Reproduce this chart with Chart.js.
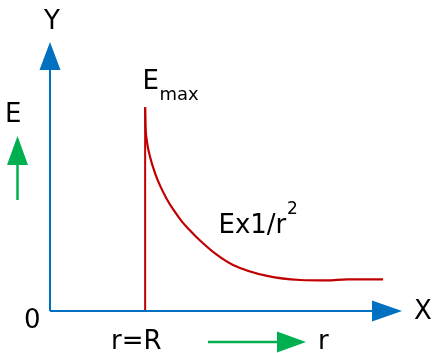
<!DOCTYPE html>
<html>
<head>
<meta charset="utf-8">
<script src="https://cdn.jsdelivr.net/npm/chart.js@4"></script>
<style>
  html, body { margin: 0; padding: 0; background: #ffffff; }
  #wrap { width: 434px; height: 353px; position: relative; }
</style>
</head>
<body>
<div id="wrap"><canvas id="c"></canvas></div>
<script>
// r in units of R, E in units of Emax
const rValues = [1.0, 1.004, 1.017, 1.052, 1.104, 1.157, 1.227, 1.297, 1.385, 1.472, 1.577, 1.756, 1.924, 2.282, 2.629, 2.913, 3.123, 3.501];
const eValues = [1.0, 0.913, 0.839, 0.756, 0.677, 0.615, 0.550, 0.497, 0.440, 0.395, 0.346, 0.275, 0.226, 0.172, 0.152, 0.150, 0.155, 0.155];
const surfaceR = [1.0, 1.0];
const surfaceE = [0, 1.0];
const labels = { y: 'Y', x: 'X', origin: '0', e: 'E', r: 'r', rR: 'r=R', emax: 'E', emaxSub: 'max', law: 'Ex1/r', lawSup: '2' };

const BLUE = '#0070C0', RED = '#C00000', GREEN = '#00B050';
const FONT = '"DejaVu Sans", Verdana, sans-serif';

const decor = {
  id: 'decor',
  afterDatasetsDraw(chart) {
    const ctx = chart.ctx;
    const xs = chart.scales.x, ys = chart.scales.y;
    const ox = xs.getPixelForValue(0), oy = ys.getPixelForValue(0);
    const xEnd = xs.right, yEnd = ys.top;
    ctx.save();
    // axes
    ctx.strokeStyle = BLUE; ctx.fillStyle = BLUE; ctx.lineWidth = 2;
    ctx.beginPath(); ctx.moveTo(ox, oy); ctx.lineTo(xEnd - 28, oy); ctx.stroke();
    ctx.beginPath(); ctx.moveTo(xEnd, oy); ctx.lineTo(xEnd - 30, oy - 10.5); ctx.lineTo(xEnd - 30, oy + 10.5); ctx.closePath(); ctx.fill();
    ctx.beginPath(); ctx.moveTo(ox, oy); ctx.lineTo(ox, yEnd + 26); ctx.stroke();
    ctx.beginPath(); ctx.moveTo(ox, yEnd); ctx.lineTo(ox - 10.5, yEnd + 28); ctx.lineTo(ox + 10.5, yEnd + 28); ctx.closePath(); ctx.fill();
    // green arrows
    ctx.strokeStyle = GREEN; ctx.fillStyle = GREEN; ctx.lineWidth = 2.5;
    ctx.beginPath(); ctx.moveTo(17.5, 200); ctx.lineTo(17.5, 163); ctx.stroke();
    ctx.beginPath(); ctx.moveTo(17.5, 136); ctx.lineTo(7, 165); ctx.lineTo(28, 165); ctx.closePath(); ctx.fill();
    ctx.beginPath(); ctx.moveTo(208, 342); ctx.lineTo(279, 342); ctx.stroke();
    ctx.beginPath(); ctx.moveTo(306, 342); ctx.lineTo(277, 331.5); ctx.lineTo(277, 352.5); ctx.closePath(); ctx.fill();
    // texts
    ctx.fillStyle = '#000000';
    ctx.textBaseline = 'alphabetic';
    ctx.textAlign = 'left';
    ctx.font = '26px ' + FONT;
    ctx.fillText(labels.y, 44, 29);
    ctx.fillText(labels.e, 5, 122);
    ctx.fillText(labels.origin, 24, 328);
    ctx.fillText(labels.x, 414, 319);
    ctx.fillText(labels.rR, 111, 349);
    ctx.fillText(labels.r, 318, 349);
    ctx.fillText(labels.emax, 142.5, 89);
    ctx.fillText(labels.law, 218.5, 233);
    ctx.font = '18px ' + FONT;
    ctx.fillText(labels.emaxSub, 159.5, 100);
    ctx.font = '17px ' + FONT;
    ctx.fillText(labels.lawSup, 287, 214);
    ctx.restore();
  }
};

new Chart(document.getElementById('c'), {
  type: 'scatter',
  data: {
    datasets: [
      {
        data: surfaceR.map((r, i) => ({ x: r, y: surfaceE[i] })),
        showLine: true, borderColor: RED, borderWidth: 2, pointRadius: 0, tension: 0
      },
      {
        data: rValues.map((r, i) => ({ x: r, y: eValues[i] })),
        showLine: true, borderColor: RED, borderWidth: 2.2, pointRadius: 0,
        cubicInterpolationMode: 'monotone'
      }
    ]
  },
  options: {
    responsive: true,
    maintainAspectRatio: false,
    animation: false,
    layout: { padding: { left: 50, right: 32, top: 42, bottom: 42 } },
    plugins: { legend: { display: false }, tooltip: { enabled: false } },
    scales: {
      x: { type: 'linear', min: 0, max: 3.7, display: false },
      y: { type: 'linear', min: 0, max: 1.32, display: false }
    }
  },
  plugins: [decor]
});
</script>
</body>
</html>
